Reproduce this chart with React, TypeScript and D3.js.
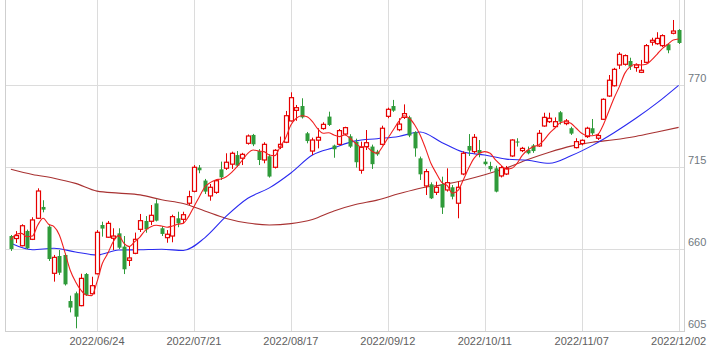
import { useRef, useEffect } from 'react';
import * as d3 from 'd3';

const WIDTH = 710;
const HEIGHT = 352;
const PLOT = { left: 5.5, right: 684, top: 3, bottom: 331 };

// trading days 2022/06/02 - 2022/12/02
const DATES = [
  '06/02', '06/03', '06/06', '06/07', '06/08', '06/09', '06/10', '06/13', '06/14', '06/15', '06/16', '06/17',
  '06/20', '06/21', '06/22', '06/23', '06/24', '06/27', '06/28', '06/29', '06/30',
  '07/01', '07/04', '07/05', '07/06', '07/07', '07/08', '07/11', '07/12', '07/13', '07/14', '07/15',
  '07/19', '07/20', '07/21', '07/22', '07/25', '07/26', '07/27', '07/28', '07/29',
  '08/01', '08/02', '08/03', '08/04', '08/05', '08/08', '08/09', '08/10', '08/12', '08/15', '08/16', '08/17',
  '08/18', '08/19', '08/22', '08/23', '08/24', '08/25', '08/26', '08/29', '08/30', '08/31',
  '09/01', '09/02', '09/05', '09/06', '09/07', '09/08', '09/09', '09/12', '09/13', '09/14', '09/15', '09/16',
  '09/20', '09/21', '09/22', '09/26', '09/27', '09/28', '09/29', '09/30',
  '10/03', '10/04', '10/05', '10/06', '10/07', '10/11', '10/12', '10/13', '10/14', '10/17', '10/18', '10/19',
  '10/20', '10/21', '10/24', '10/25', '10/26', '10/27', '10/28', '10/31',
  '11/01', '11/02', '11/04', '11/07', '11/08', '11/09', '11/10', '11/11', '11/14', '11/15', '11/16', '11/17',
  '11/18', '11/21', '11/22', '11/24', '11/25', '11/28', '11/29', '11/30',
  '12/01', '12/02',
];

const OPEN = [
  668.7, 667, 662.2, 672.1, 666.5, 680.6, 688.2, 675, 643.7, 655.3, 656, 625.1, 630.3, 622, 643.2, 630, 643.4, 676.1, 667.9, 667.2,
  670.5, 661.6, 652.4, 657.1, 673.2, 678.8, 678.6, 690.6, 673.9, 667.6, 668.7, 680.6, 679.9, 690.7, 698.7, 714.6, 705.9, 695.6, 698, 713.4,
  714.2, 716.9, 723, 720.9, 730.9, 736.5, 725.7, 719.7, 722.2, 714.8, 728.3, 731.6, 745.9, 753, 755.9, 737.6, 725.7, 733, 740.8, 748.8,
  729.4, 730.2, 737.1, 735.6, 732, 712.8, 728.7, 728.7, 725.3, 730.2, 749, 755.9, 740, 748.3, 748.3, 738.3, 720.8, 702.3, 703.4, 698,
  703.4, 699.6, 701.4, 690.7, 710.3, 729.1, 725.3, 726.4, 718.6, 715.7, 714.1, 709, 710.3, 722.4, 732.1, 726, 726.4, 729.4, 729.1, 742.5,
  745.4, 742.1, 751.7, 744.1, 741, 728, 730.7, 735.4, 741, 734.3, 747, 762.6, 769.5, 783.4, 783.9, 786.1, 781.7, 778.5, 785.2, 798.7,
  797.7, 796.4, 797.3, 804.7, 806.9,
];
const HIGH = [
  669.4, 672, 676.6, 673, 681.3, 700.7, 692.7, 676, 656, 659.3, 657, 628.7, 631.4, 643.4, 643.9, 641.4, 672.7, 678.3, 678.8, 673.9,
  673.9, 668.7, 661.6, 671, 683.5, 682.1, 689.5, 693.3, 675.4, 672.7, 683, 685, 685, 699.1, 716.3, 716.3, 707, 703.6, 706.5, 718.6,
  724.2, 725.3, 725.7, 724.5, 736.8, 737.2, 727, 731.6, 723.5, 727, 735.4, 752.6, 765.1, 756.6, 761.1, 738.5, 734.7, 741, 745, 752.1,
  730, 740.5, 742, 737, 734, 732, 739.8, 730, 726.5, 742.7, 754.8, 760, 747.7, 757, 749.4, 739, 722, 713.7, 704.7, 705.2,
  708.5, 714.1, 702.9, 705.2, 725.5, 737.1, 737.1, 733.1, 720.5, 718.5, 715.8, 715.7, 715.7, 733.6, 734.3, 728.5, 728.7, 730.4, 739.8, 751.4,
  751.4, 748.3, 752.5, 747.2, 742, 734.3, 733.5, 742, 747.2, 737.5, 761, 776.7, 781.5, 792, 790.5, 788.3, 784.5, 786.8, 797.5, 801.7,
  805.4, 804, 798, 813.6, 807.5,
];
const LOW = [
  658.7, 664, 661.8, 660, 666, 680.1, 684.6, 652, 638.1, 642.6, 635.5, 617.5, 606.8, 621.6, 628.5, 629.5, 643, 668.3, 667.5, 659.3,
  660, 643.2, 648.6, 656.5, 671.4, 670.9, 676.1, 678.5, 668.7, 664.2, 664.5, 674.6, 677.2, 689.5, 698, 710.8, 696.9, 692.4, 697, 706.3,
  713, 713.7, 715, 716.3, 730, 729, 716.3, 717.5, 707.9, 714, 727, 731, 745.5, 746, 747.5, 730.9, 723, 727.5, 740, 742.5,
  721.2, 729.5, 736.5, 727.8, 714.6, 710.5, 726.4, 713.7, 722.5, 729.5, 747.7, 752, 739, 747.2, 735, 721.9, 706.3, 696.2, 693.5, 696.2,
  683.5, 698.5, 693.3, 680.6, 709.5, 722.4, 724, 721.5, 716, 711.9, 698, 708, 709.6, 721.8, 728.7, 725, 723.5, 724.5, 728.5, 742,
  744.5, 741.5, 743.5, 743, 736.5, 727.5, 729.5, 734.5, 736.5, 733.1, 746.5, 762, 769, 780.7, 783, 780.1, 778.9, 778, 784.5, 796.4,
  797, 795.5, 791.3, 804, 797.5,
];
const CLOSE = [
  660, 669, 675.6, 660.5, 679.5, 698.9, 686.4, 653.3, 654.4, 644.1, 636.3, 620.7, 614.6, 640.3, 629.2, 635.4, 671.2, 673.7, 677.2, 668.7,
  660.9, 646.4, 654, 666.5, 679, 673.2, 682.6, 679, 670.1, 669.9, 681.7, 677.2, 683, 695.1, 714.8, 712.8, 698.5, 701.4, 705.8, 708.1,
  718.2, 724.2, 715.9, 723.5, 735.8, 730.2, 719.7, 730.2, 708.6, 726.2, 730.2, 749.4, 761.5, 754.8, 748.3, 732.4, 733.1, 734.9, 743.6, 743.2,
  726.9, 739.4, 741.4, 728.7, 718.2, 728.2, 731.3, 716.9, 723.5, 741, 753.7, 752.8, 743.8, 750.8, 736.1, 727.5, 710.1, 711.9, 694, 701.4,
  687.8, 704.5, 695.1, 701.4, 724.2, 726, 734.9, 724.2, 716.9, 713.5, 698.5, 714.6, 714.1, 733.1, 731.4, 727.5, 724.2, 725.7, 737.6, 748.3,
  747.7, 745.4, 745.4, 745.9, 737.4, 732, 732.9, 741, 737.6, 736.1, 760.4, 773.2, 780.5, 790.6, 789.7, 782.3, 783.4, 779.9, 796.4, 800,
  801.3, 803.1, 793.3, 806.2, 798.2,
];

// moving averages
const MA5 = [
  666.0, 669.9, 670.5, 668.2, 668.7, 676.1, 680.6, 676.6, 675.0, 669.4, 658.2, 645.9, 638.1, 632.5, 629.1, 628.7, 638.1, 650.4, 657.1, 664.9,
  669.0, 663.8, 661.6, 664.9, 668.2, 672.7, 675.0, 675.9, 675.4, 674.6, 675.4, 676.6, 677.2, 681.7, 688.4, 695.1, 701.4, 704.5, 706.3, 707.0,
  708.5, 711.4, 715.2, 719.7, 724.2, 726.4, 725.7, 725.3, 723.0, 722.6, 728.6, 734.3, 743.2, 747.7, 749.4, 748.7, 745.4, 740.5, 737.6, 738.0,
  736.5, 735.4, 736.5, 734.3, 730.9, 728.6, 728.6, 725.7, 724.2, 728.6, 734.3, 739.8, 745.4, 749.4, 747.7, 743.2, 736.5, 727.5, 717.5, 710.8,
  704.7, 702.7, 697.4, 699.1, 706.3, 714.1, 720.8, 724.2, 725.3, 724.2, 719.7, 716.3, 713.5, 714.1, 717.5, 723.0, 726.4, 728.6, 729.8, 733.1,
  737.6, 741.0, 744.6, 745.4, 744.3, 741.0, 737.6, 736.0, 736.0, 736.9, 743.2, 752.1, 761.1, 768.9, 777.8, 782.3, 783.9, 783.4, 783.9, 786.8,
  790.6, 794.6, 797.3, 800.2, 800.9,
];
// every 4th trading day
const MA25 = [
  663.8, 659.5, 660.5, 658, 656, 659.3, 659.5, 659.8, 659, 667.5, 682, 694, 701, 711, 723, 728,
  732.5, 734, 735.5, 738.5, 731.5, 725, 723, 720.3, 719.5, 717.5, 722.5, 729.5, 738, 747.5, 758, 769.8,
];
const MA75 = [
  713.5, 710, 707.5, 704, 698.8, 697.5, 696.3, 693, 690.5, 685.5, 680.5, 677.4, 676.1, 677, 679.8, 685.5,
  689.8, 692.8, 697, 700.8, 703, 706, 709.8, 714.3, 720, 724.9, 729, 731.6, 733.3, 735.5, 738.5, 741.6,
];
const MA_STEP = 4;

const Y_TICKS = [605, 660, 715, 770];
const X_TICKS = ['06/24', '07/21', '08/17', '09/12', '10/11', '11/07', '12/02'];

const UP = '#e60000';
const DOWN = '#2f9b3a';

export default function App() {
  const svgRef = useRef<SVGSVGElement | null>(null);

  useEffect(() => {
    const svg = d3.select(svgRef.current);
    svg.selectAll('*').remove();

    const x = d3.scalePoint<string>().domain(DATES).range([PLOT.left, PLOT.right]).padding(1);
    const y = d3.scaleLinear().domain([605, 825]).range([PLOT.bottom, PLOT.top]);

    // grid
    const grid = svg.append('g').attr('shape-rendering', 'crispEdges');
    grid.selectAll('.hgrid')
      .data(Y_TICKS)
      .join('line')
      .attr('x1', PLOT.left).attr('x2', PLOT.right)
      .attr('y1', d => Math.round(y(d)) + 0.5).attr('y2', d => Math.round(y(d)) + 0.5)
      .attr('stroke', '#dcdcdc');
    grid.selectAll('.vgrid')
      .data(X_TICKS)
      .join('line')
      .attr('x1', d => Math.round(x(d)!) + 0.5).attr('x2', d => Math.round(x(d)!) + 0.5)
      .attr('y1', 0).attr('y2', PLOT.bottom)
      .attr('stroke', '#dcdcdc');
    grid.append('line')
      .attr('x1', PLOT.left).attr('x2', PLOT.left).attr('y1', 0).attr('y2', PLOT.bottom + 1)
      .attr('stroke', '#cfcfcf');
    grid.append('line')
      .attr('x1', PLOT.right + 0.5).attr('x2', PLOT.right + 0.5).attr('y1', 0).attr('y2', PLOT.bottom + 1)
      .attr('stroke', '#cfcfcf');
    grid.append('line')
      .attr('x1', PLOT.left).attr('x2', PLOT.right).attr('y1', PLOT.bottom + 0.5).attr('y2', PLOT.bottom + 0.5)
      .attr('stroke', '#cfcfcf');

    // moving averages
    const ma5Line = d3.line<number>()
      .x((_, i) => x(DATES[i])!)
      .y(d => y(d))
      .curve(d3.curveMonotoneX);
    const sparseLine = d3.line<number>()
      .x((_, i) => x(DATES[Math.min(i * MA_STEP, DATES.length - 1)])!)
      .y(d => y(d))
      .curve(d3.curveMonotoneX);

    svg.append('path').datum(MA75).attr('d', sparseLine)
      .attr('fill', 'none').attr('stroke', '#a83232').attr('stroke-width', 1.1);
    svg.append('path').datum(MA25).attr('d', sparseLine)
      .attr('fill', 'none').attr('stroke', '#2a2af0').attr('stroke-width', 1.1);

    // candles
    const bodyW = 4;
    const candles = svg.append('g').selectAll('g')
      .data(DATES.map((d, i) => ({ d, o: OPEN[i], h: HIGH[i], l: LOW[i], c: CLOSE[i] })))
      .join('g');

    candles.append('line')
      .attr('x1', d => Math.round(x(d.d)!) + 0.5).attr('x2', d => Math.round(x(d.d)!) + 0.5)
      .attr('y1', d => y(d.h)).attr('y2', d => y(d.l))
      .attr('stroke', d => (d.c >= d.o ? UP : DOWN)).attr('stroke-width', 1);

    candles.append('rect')
      .attr('x', d => Math.round(x(d.d)!) + 0.5 - bodyW / 2)
      .attr('width', bodyW)
      .attr('y', d => y(Math.max(d.o, d.c)))
      .attr('height', d => Math.max(1, Math.abs(y(d.o) - y(d.c))))
      .attr('fill', d => (d.c >= d.o ? '#ffffff' : DOWN))
      .attr('stroke', d => (d.c >= d.o ? UP : 'none'))
      .attr('stroke-width', 1.2);

    svg.append('path').datum(MA5).attr('d', ma5Line)
      .attr('fill', 'none').attr('stroke', '#f02020').attr('stroke-width', 1.1);

    // y labels (right)
    svg.append('g').selectAll('text')
      .data(Y_TICKS)
      .join('text')
      .attr('x', 688).attr('y', d => y(d) - 3)
      .attr('font-family', 'Liberation Sans, Arial, sans-serif').attr('font-size', 11)
      .attr('fill', '#707880')
      .text(d => d);

    // x labels
    svg.append('g').selectAll('text')
      .data(X_TICKS)
      .join('text')
      .attr('x', d => x(d)!).attr('y', 345)
      .attr('text-anchor', 'middle')
      .attr('font-family', 'Liberation Sans, Arial, sans-serif').attr('font-size', 11)
      .attr('fill', '#606060')
      .text(d => `2022/${d}`);
  }, []);

  return (
    <div style={{ width: WIDTH, height: HEIGHT }}>
      <style>{'body{margin:0}'}</style>
      <svg ref={svgRef} width={WIDTH} height={HEIGHT} style={{ display: 'block', background: '#fff' }} />
    </div>
  );
}
